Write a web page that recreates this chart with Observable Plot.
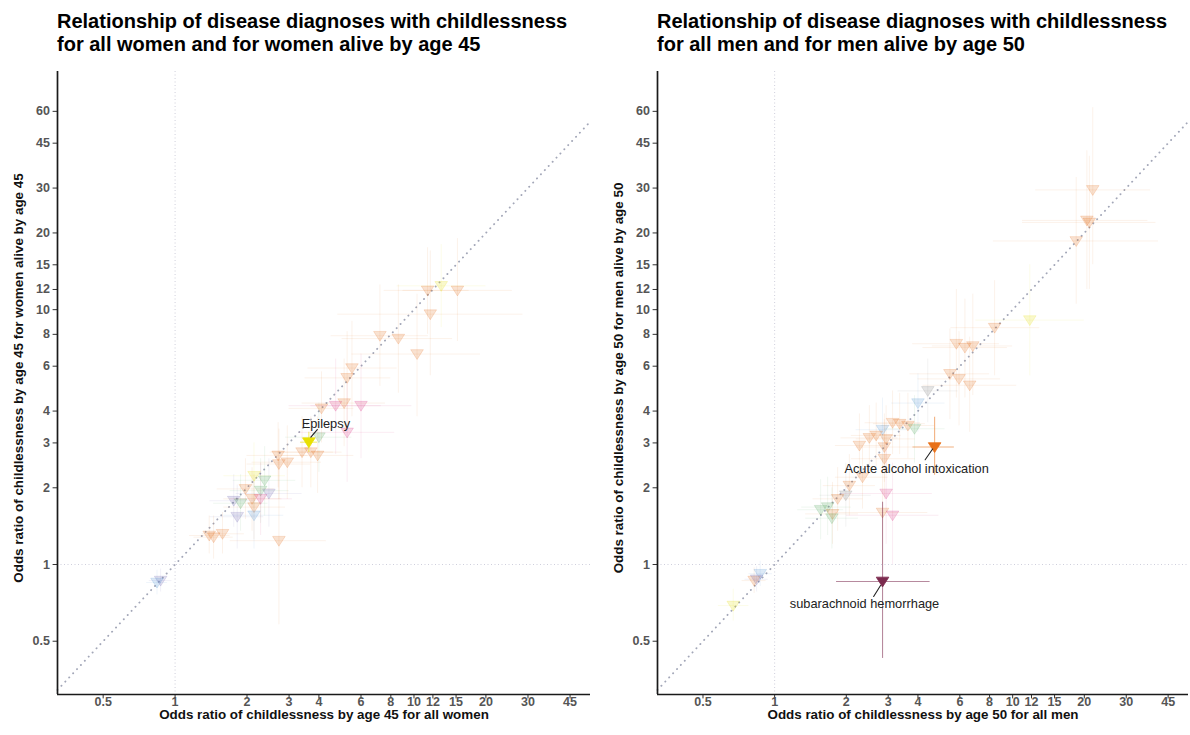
<!DOCTYPE html>
<html><head><meta charset="utf-8">
<script src="https://cdn.jsdelivr.net/npm/d3@7"></script>
<script src="https://cdn.jsdelivr.net/npm/@observablehq/plot@0.6"></script>
<style>
body{margin:0;background:#fff;font-family:"Liberation Sans",Arial,Helvetica,sans-serif;}
#wrap{position:relative;width:1190px;height:735px;overflow:hidden;background:#fff}
.panel{position:absolute;top:0}
.title{position:absolute;top:10px;font-weight:bold;font-size:20px;line-height:23px;color:#000;white-space:nowrap}
</style></head><body><div id="wrap"></div>
<script>
// ---------- axes / ticks ----------
const xTicks = [0.5, 1, 2, 3, 4, 6, 8, 10, 12, 15, 20, 30, 45];
const yTicks = [0.5, 1, 2, 3, 4, 6, 8, 10, 12, 15, 20, 30, 45, 60];
const xDomain = [0.322, 54.8];
const yDomain = [0.309, 86];

// ---------- groups ----------
const groupNames  = ["F", "G", "I", "K", "E", "J", "Q"];
const groupColors = ["#e36c1b", "#e2dc00", "#d62b7f", "#4fa65a", "#6f63ad", "#4f93d1", "#7d7d7d"];

// ---------- women (left panel) ----------
const womenX   = [11.4,13.0,15.2,11.7,7.2,8.6,10.3,5.5,5.25,4.1,4.7,5.1,6.0,5.25,4.0,3.4,3.7,3.95,2.7,2.72,2.95,2.14,2.37,1.97,2.28,2.47,2.10,2.28,1.76,1.88,2.14,1.82,2.14,1.39,1.45,1.58,2.72,0.87,0.84];
const womenY   = [11.9,12.4,11.9,9.6,7.9,7.7,6.7,5.9,5.4,4.1,4.2,4.3,4.2,3.3,3.16,2.76,2.76,2.68,2.68,2.48,2.52,2.23,2.14,1.98,1.95,1.90,1.81,1.81,1.78,1.74,1.68,1.54,1.56,1.30,1.28,1.32,1.24,0.865,0.85];
const womenXlo = [7.5,8.5,9.0,4.8,4.5,5.0,5.5,3.6,3.5,3.0,3.0,3.4,3.7,3.3,2.9,2.5,2.7,2.8,2.0,2.0,2.1,1.6,1.75,1.5,1.7,1.8,1.6,1.7,1.4,1.45,1.6,1.4,1.6,1.15,1.2,1.3,1.7,0.78,0.76];
const womenXhi = [17,20,25.8,28.6,11.5,14.5,19,8.5,8.0,5.6,7.3,7.6,9.8,8.3,5.5,4.6,5.0,5.6,3.6,3.7,4.1,2.9,3.2,2.6,3.0,3.4,2.8,3.1,2.2,2.45,2.9,2.35,2.85,1.7,1.75,1.95,4.3,0.97,0.93];
const womenYlo = [8.0,8.5,7.5,5.5,5.0,4.7,3.8,3.8,3.5,3.0,2.7,2.9,2.6,2.1,2.3,2.0,2.0,1.9,2.0,1.8,1.8,1.65,1.55,1.5,1.45,1.4,1.35,1.3,1.4,1.35,1.25,1.15,1.15,1.1,1.05,1.1,0.58,0.78,0.76];
const womenYhi = [17.5,18,19,17,12.5,12.5,11.5,9.0,8.2,5.7,6.4,6.4,6.7,5.1,4.3,3.8,3.8,3.8,3.6,3.4,3.5,3.0,2.9,2.6,2.6,2.6,2.4,2.5,2.25,2.25,2.25,2.05,2.1,1.55,1.55,1.6,2.6,0.96,0.95];
const womenGroup = ["F","G","F","F","F","F","F","F","F","F","I","F","I","I","K","F","F","F","F","F","F","G","K","F","K","E","F","I","E","K","F","E","J","F","F","F","F","E","J"];

const womenHiLabel = ["Epilepsy"];
const womenHiX   = [3.63];
const womenHiY   = [3.02];
const womenHiXlo = [3.35];
const womenHiXhi = [3.95];
const womenHiYlo = [2.75];
const womenHiYhi = [3.30];
const womenHiColor = ["#e8e000"];

// ---------- men (right panel) ----------
const menX   = [21.7,20.5,21.0,18.5,11.8,8.4,5.8,6.3,6.8,5.45,5.95,6.6,4.4,4.0,3.13,3.35,3.63,3.87,2.84,2.67,2.50,2.27,2.94,2.89,2.89,2.34,2.06,1.99,1.84,1.56,1.67,1.75,1.74,2.94,2.84,3.13,0.87,0.82,0.84,0.67];
const menY   = [29.5,22.4,22.0,18.6,9.1,8.5,7.35,7.1,7.2,5.6,5.35,5.05,4.8,4.3,3.6,3.57,3.51,3.41,3.38,3.21,3.14,2.93,3.11,2.89,2.60,2.20,2.04,1.87,1.81,1.64,1.68,1.58,1.52,1.90,1.60,1.56,0.92,0.865,0.875,0.69];
const menXlo = [12.5,11,11,8.3,7,5.5,3.8,4.2,4.6,3.7,4.0,4.2,3.3,3.1,2.4,2.6,2.8,2.9,2.2,2.1,1.9,1.8,2.2,2.2,2.1,1.8,1.6,1.55,1.45,1.25,1.3,1.35,1.35,1.9,1.8,2.0,0.78,0.73,0.75,0.58];
const menXhi = [38,37,40,41,20,13,8.8,9.5,10,8.0,8.9,10.4,5.9,5.2,4.1,4.3,4.7,5.2,3.7,3.4,3.3,2.9,3.9,3.8,3.9,3.0,2.65,2.55,2.35,1.95,2.1,2.25,2.25,4.6,4.4,4.9,0.98,0.92,0.94,0.78];
const menYlo = [15,12,12,10.5,5.5,5.5,4.5,4.5,4.6,3.7,3.5,3.3,3.6,3.3,2.7,2.7,2.6,2.5,2.5,2.4,2.3,2.2,2.3,2.1,1.8,1.65,1.55,1.4,1.35,1.25,1.3,1.2,1.15,1.2,1.0,1.0,0.82,0.77,0.78,0.6];
const menYhi = [62,42,40,33,15,13,12,11,11.5,8.4,8.2,7.8,6.4,5.6,4.8,4.7,4.7,4.6,4.5,4.3,4.2,3.9,4.2,3.9,3.7,2.9,2.7,2.5,2.4,2.15,2.2,2.1,2.0,3.0,2.6,2.5,1.03,0.97,0.98,0.8];
const menGroup = ["F","F","F","F","G","F","F","F","F","F","F","F","Q","J","F","F","F","K","J","F","F","F","F","F","F","F","F","Q","F","K","K","F","K","I","F","I","J","F","E","G"];

const menHiLabel = ["Acute alcohol intoxication", "subarachnoid hemorrhage"];
const menHiX   = [4.70, 2.84];
const menHiY   = [2.89, 0.858];
const menHiXlo = [3.81, 1.82];
const menHiXhi = [5.69, 4.50];
const menHiYlo = [2.24, 0.428];
const menHiYhi = [3.78, 1.756];
const menHiColor = ["#e8711a", "#7b2a4e"];

// ---------- text ----------
const titles = [
  "Relationship of disease diagnoses with childlessness<br>for all women and for women alive by age 45",
  "Relationship of disease diagnoses with childlessness<br>for all men and for men alive by age 50"
];
const xLabels = ["Odds ratio of childlessness by age 45 for all women", "Odds ratio of childlessness by age 50 for all men"];
const yLabels = ["Odds ratio of childlessness by age 45 for women alive by age 45", "Odds ratio of childlessness by age 50 for men alive by age 50"];

// label placement (styling, pixels relative to point)
const womenLabelStyle = [{dx: 17, dy: -18, ldx: 2, ldy: -5, len: 10, rot: 40}];
const menLabelStyle = [
  {dx: -18, dy: 22, ldx: -2, ldy: 2, len: 13, rot: 215},
  {dx: -18, dy: 22, ldx: -2, ldy: 4, len: 13, rot: 212}
];

const triDown = {
  draw(ctx, size) {
    const r = Math.sqrt(size / Math.PI);
    const w = r * 1.05, h1 = r * 0.72, h2 = r * 0.92;
    ctx.moveTo(-w, -h1); ctx.lineTo(w, -h1); ctx.lineTo(0, h2); ctx.closePath();
  }
};
const leader = { draw(ctx, l) { ctx.moveTo(0, 0); ctx.lineTo(0, -l); } };

function rowsOf(X, Y, Xlo, Xhi, Ylo, Yhi, G) {
  return X.map((x, i) => ({x, y: Y[i], xlo: Xlo[i], xhi: Xhi[i], ylo: Ylo[i], yhi: Yhi[i], g: G[i]}));
}

function makePanel(opts) {
  const rows = rowsOf(opts.X, opts.Y, opts.Xlo, opts.Xhi, opts.Ylo, opts.Yhi, opts.G);
  const hi = opts.hiLabel.map((label, i) => ({label, x: opts.hiX[i], y: opts.hiY[i], xlo: opts.hiXlo[i], xhi: opts.hiXhi[i], ylo: opts.hiYlo[i], yhi: opts.hiYhi[i], c: opts.hiColor[i]}));
  const fmt = d => String(d);
  const hiMarks = [];
  hi.forEach((h, i) => {
    const s = opts.labelStyle[i];
    hiMarks.push(
      Plot.ruleY([h], {y: "y", x1: "xlo", x2: "xhi", stroke: h.c, strokeOpacity: 0.55, strokeWidth: 1.1}),
      Plot.ruleX([h], {x: "x", y1: "ylo", y2: "yhi", stroke: h.c, strokeOpacity: 0.55, strokeWidth: 1.1}),
      Plot.dot([h], {x: "x", y: "y", symbol: triDown, r: 6, fill: h.c, stroke: h.c, strokeWidth: 0.8}),
      Plot.vector([h], {x: "x", y: "y", length: s.len, rotate: s.rot, anchor: "start", shape: leader, dx: s.ldx, dy: s.ldy, stroke: "#222", strokeWidth: 1.1}),
      Plot.text([h], {x: "x", y: "y", text: "label", dx: s.dx, dy: s.dy, fontSize: 12.8, fill: "#222"})
    );
  });
  const tickText = {fontSize: 12.5, fontWeight: "bold", fill: "#555"};
  return Plot.plot({
    width: opts.width, height: 735,
    marginLeft: 57, marginRight: opts.marginRight, marginTop: 71, marginBottom: 41,
    style: {fontFamily: '"Liberation Sans", Arial, Helvetica, sans-serif', background: "transparent", overflow: "visible"},
    x: {type: "log", domain: xDomain, axis: null},
    y: {type: "log", domain: yDomain, axis: null},
    color: {domain: groupNames, range: groupColors},
    marks: [
      Plot.ruleX([1], {stroke: "#c9c9d8", strokeWidth: 0.9, strokeDasharray: "1,2.5"}),
      Plot.ruleY([1], {stroke: "#c9c9d8", strokeWidth: 0.9, strokeDasharray: "1,2.5"}),
      Plot.link([{a: xDomain[0], b: xDomain[1]}], {x1: "a", y1: "a", x2: "b", y2: "b", stroke: "#a3a7b8", strokeWidth: 1.9, strokeDasharray: "0.1,5.6", strokeLinecap: "round"}),
      Plot.ruleY(rows, {y: "y", x1: "xlo", x2: "xhi", stroke: "g", strokeOpacity: 0.09, strokeWidth: 1}),
      Plot.ruleX(rows, {x: "x", y1: "ylo", y2: "yhi", stroke: "g", strokeOpacity: 0.09, strokeWidth: 1}),
      Plot.dot(rows, {x: "x", y: "y", symbol: triDown, r: 6, fill: "g", fillOpacity: 0.2, stroke: "g", strokeOpacity: 0.24, strokeWidth: 0.8}),
      ...hiMarks,
      // axis ticks and labels
      Plot.vector(xTicks, {x: d => d, frameAnchor: "bottom", length: 3.5, rotate: 180, anchor: "start", shape: leader, stroke: "#333", strokeWidth: 1}),
      Plot.text(xTicks, {x: d => d, frameAnchor: "bottom", dy: 11, text: fmt, ...tickText}),
      Plot.vector(yTicks, {y: d => d, frameAnchor: "left", length: 4.5, rotate: -90, anchor: "start", shape: leader, stroke: "#333", strokeWidth: 1}),
      Plot.text(yTicks, {y: d => d, frameAnchor: "left", dx: -7.5, textAnchor: "end", text: fmt, ...tickText}),
      Plot.ruleX([xDomain[0]], {stroke: "#1a1a1a", strokeWidth: 1.7}),
      Plot.ruleY([yDomain[0]], {stroke: "#1a1a1a", strokeWidth: 1.7}),
      Plot.text([opts.xLabel], {text: d => d, frameAnchor: "bottom", textAnchor: "middle", dy: 24.5, fontSize: 13.4, fontWeight: "bold", fill: "#111"}),
      Plot.text([opts.yLabel], {text: d => d, frameAnchor: "left", textAnchor: "middle", rotate: -90, dx: -39, dy: -5, fontSize: 13.4, fontWeight: "bold", fill: "#111"})
    ]
  });
}

const wrap = document.getElementById("wrap");
const panels = [
  {left: 0, width: 595, marginRight: 5, X: womenX, Y: womenY, Xlo: womenXlo, Xhi: womenXhi, Ylo: womenYlo, Yhi: womenYhi, G: womenGroup,
   hiLabel: womenHiLabel, hiX: womenHiX, hiY: womenHiY, hiXlo: womenHiXlo, hiXhi: womenHiXhi, hiYlo: womenHiYlo, hiYhi: womenHiYhi, hiColor: womenHiColor,
   labelStyle: womenLabelStyle, xLabel: xLabels[0], yLabel: yLabels[0], title: titles[0]},
  {left: 600, width: 590, marginRight: 2, X: menX, Y: menY, Xlo: menXlo, Xhi: menXhi, Ylo: menYlo, Yhi: menYhi, G: menGroup,
   hiLabel: menHiLabel, hiX: menHiX, hiY: menHiY, hiXlo: menHiXlo, hiXhi: menHiXhi, hiYlo: menHiYlo, hiYhi: menHiYhi, hiColor: menHiColor,
   labelStyle: menLabelStyle, xLabel: xLabels[1], yLabel: yLabels[1], title: titles[1]}
];
panels.forEach(p => {
  const div = document.createElement("div");
  div.className = "panel";
  div.style.left = p.left + "px";
  div.style.width = p.width + "px";
  div.appendChild(makePanel(p));
  wrap.appendChild(div);
  const t = document.createElement("div");
  t.className = "title";
  t.style.left = (p.left + 57) + "px";
  t.innerHTML = p.title;
  wrap.appendChild(t);
});
</script>
</body></html>
